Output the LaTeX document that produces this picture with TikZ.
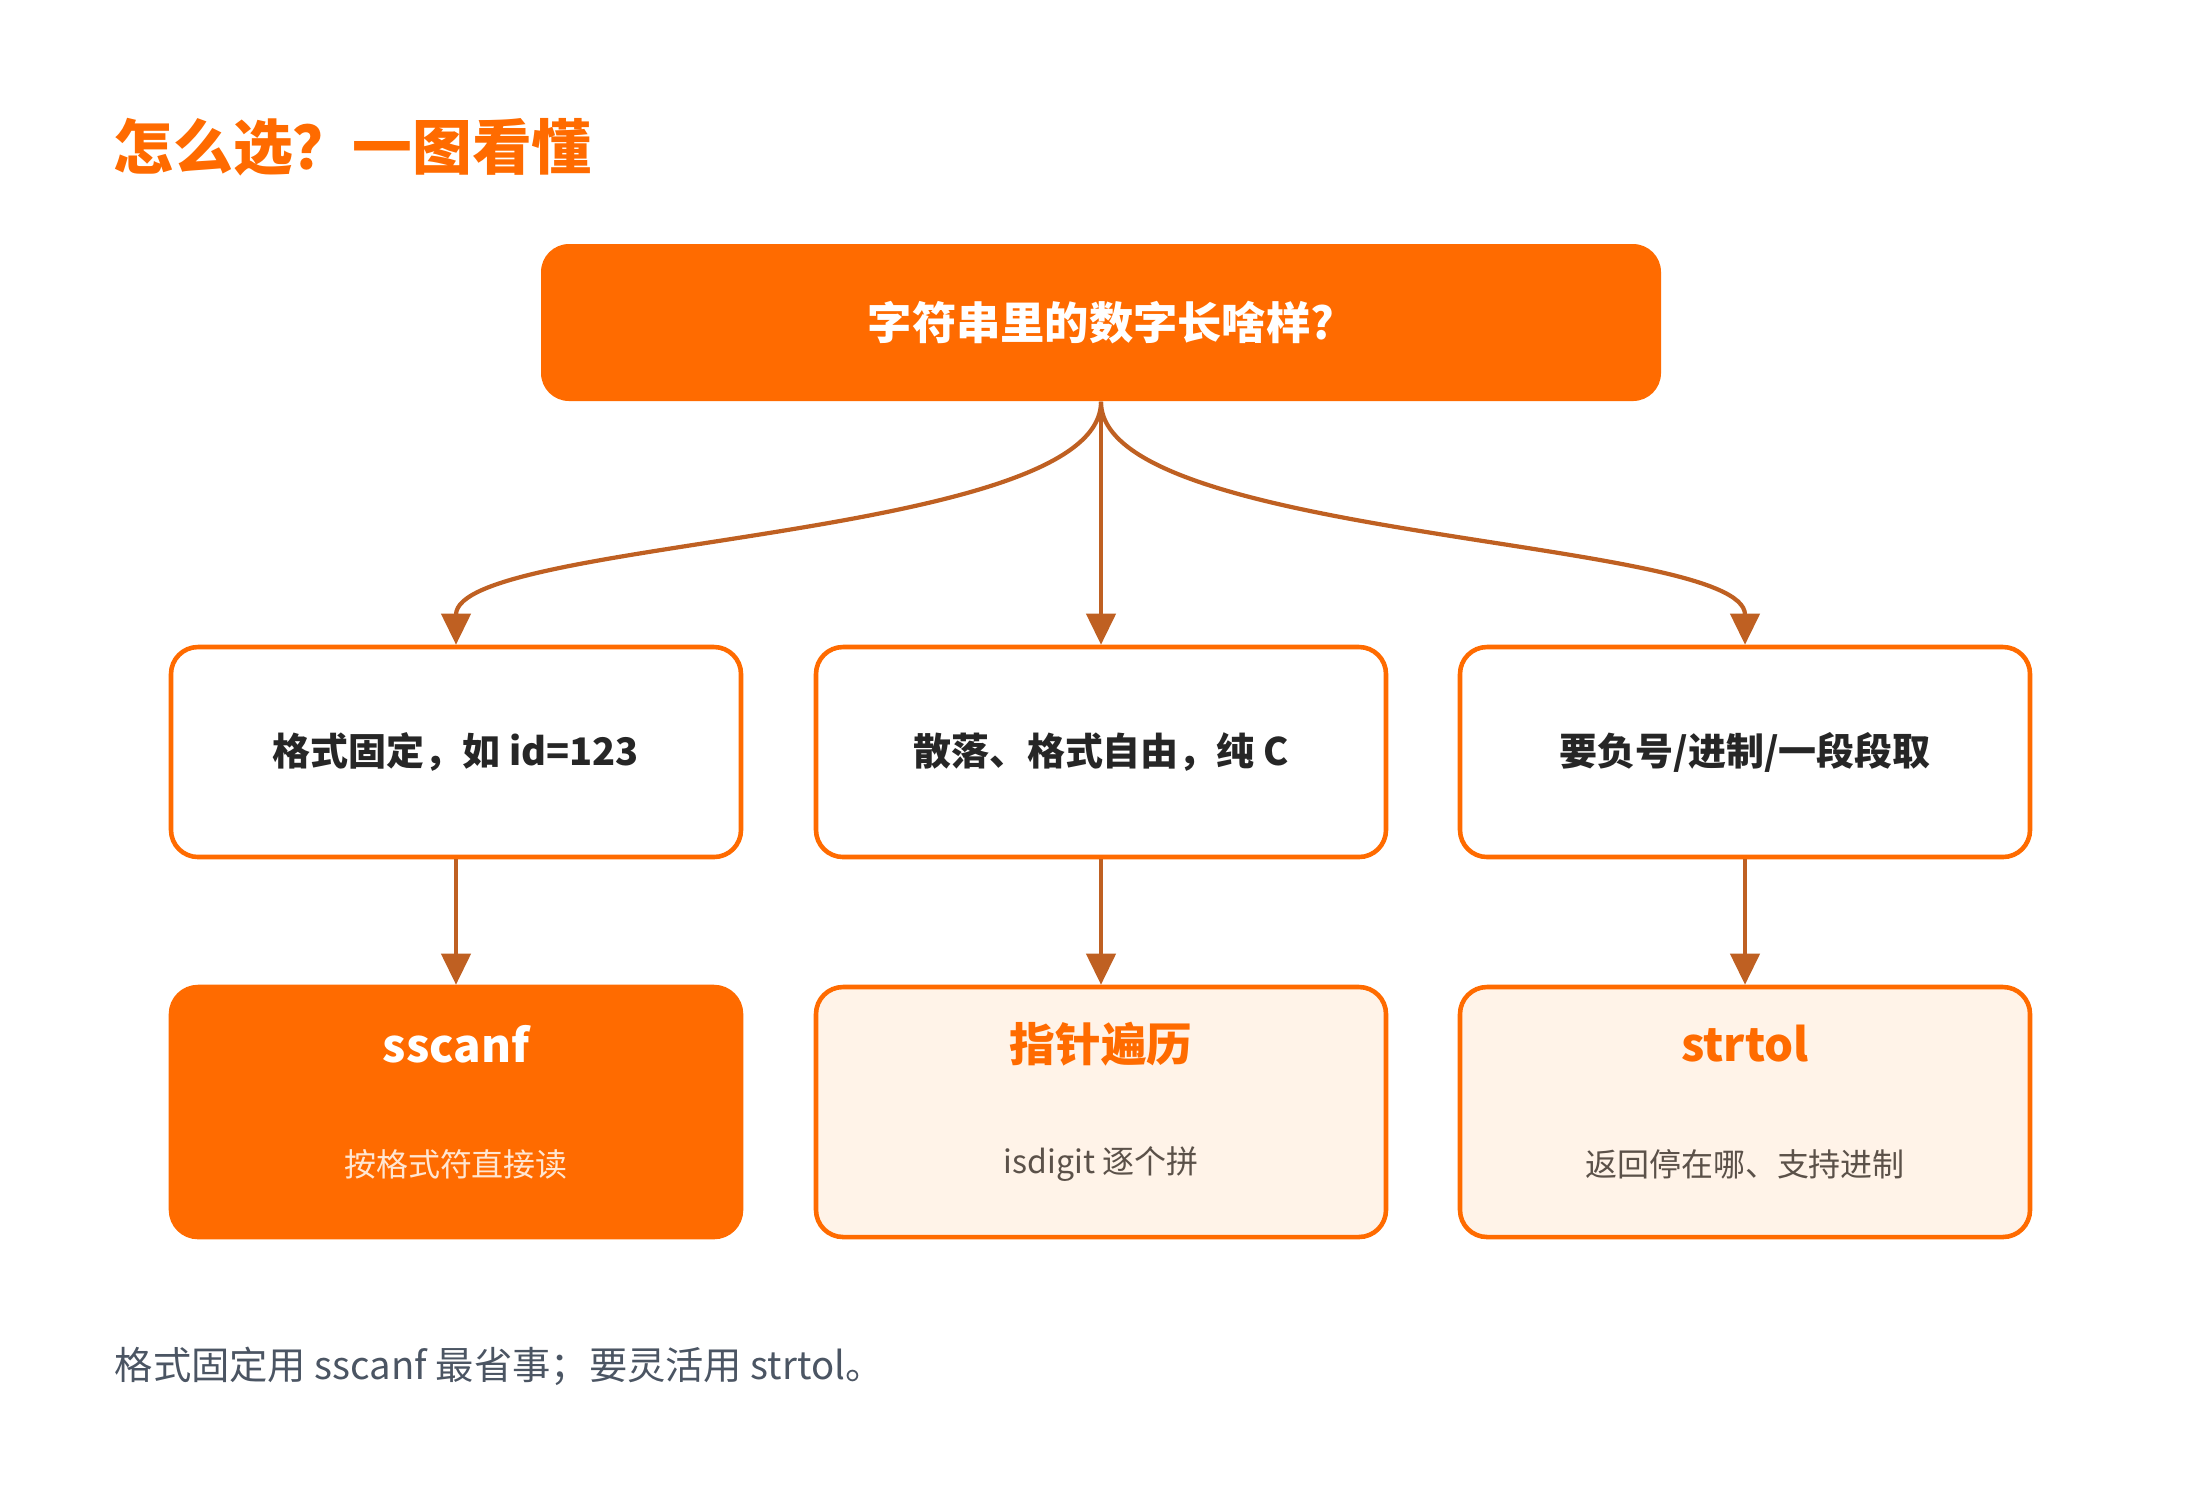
\documentclass[tikz,border=0pt]{standalone}
\usepackage{fontspec}
\setmainfont{Noto Sans CJK SC}
\usepackage{tikz}
\usetikzlibrary{arrows.meta,positioning}
\definecolor{brand}{HTML}{FF6B00}
\definecolor{linkc}{HTML}{BF6022}
\definecolor{peach}{HTML}{FFF3E8}
\definecolor{ink}{HTML}{262626}
\definecolor{notec}{HTML}{4B5563}
\definecolor{subc}{HTML}{5B5149}
\definecolor{subw}{HTML}{FFE6D2}
\tikzset{
    >={Triangle[width=2.9mm,length=3.1mm]},
    link/.style={->,draw=linkc,line width=1.2pt},
    rootbox/.style={rectangle,rounded corners=2.8mm,fill=brand,minimum width=11.2cm,minimum height=1.57cm,font=\fontsize{12.6}{15}\selectfont\bfseries,text=white},
    askbox/.style={rectangle,rounded corners=2.7mm,draw=brand,line width=1.3pt,fill=white,minimum width=5.7cm,minimum height=2.1cm,font=\fontsize{10.8}{13}\selectfont\bfseries,text=ink},
    pickbox/.style={rectangle,rounded corners=2.7mm,draw=brand,line width=1.3pt,fill=peach,minimum width=5.7cm,minimum height=2.5cm},
    picktitle/.style={font=\fontsize{13}{16}\selectfont\bfseries,text=brand,inner sep=0pt},
    picksub/.style={font=\fontsize{9.1}{11}\selectfont,text=subc,inner sep=0pt},
}
\begin{document}
\begin{tikzpicture}
    \useasboundingbox (0,0) rectangle (22,-14.88);

    % title
    \node[anchor=west,inner sep=0pt,font=\fontsize{17}{20}\selectfont\bfseries,text=brand] (title) at (1.13,-1.47) {怎么选？一图看懂};

    % question
    \node[rootbox] (root) at (11.01,-3.225) {字符串里的数字长啥样?};

    % cases
    \node[askbox] (fixed) at (4.56,-7.52) {格式固定，如 id=123};
    \node[askbox] (loose) at (11.01,-7.52) {散落、格式自由，纯 C};
    \node[askbox] (base)  at (17.45,-7.52) {要负号/进制/一段段取};

    % answers
    \node[pickbox,fill=brand] (sscanf) at (4.56,-11.12) {};
    \node[pickbox] (walk)   at (11.01,-11.12) {};
    \node[pickbox] (strtol) at (17.45,-11.12) {};

    \node[picktitle,text=white] (sscanf_t) at ([yshift=-5.9mm]sscanf.north) {sscanf};
    \node[picksub,text=subw]    (sscanf_s) at ([yshift=7.5mm]sscanf.south) {按格式符直接读};
    \node[picktitle] (walk_t)   at ([yshift=-5.9mm]walk.north) {指针遍历};
    \node[picksub]   (walk_s)   at ([yshift=7.5mm]walk.south) {isdigit 逐个拼};
    \node[picktitle] (strtol_t) at ([yshift=-5.9mm]strtol.north) {strtol};
    \node[picksub]   (strtol_s) at ([yshift=7.5mm]strtol.south) {返回停在哪、支持进制};

    % links
    \draw[link] (root.south) .. controls +(0,-1.39) and +(0,1.07) .. (fixed.north);
    \draw[link] (root.south) -- (loose.north);
    \draw[link] (root.south) .. controls +(0,-1.39) and +(0,1.07) .. (base.north);
    \draw[link] (fixed.south) -- (sscanf.north);
    \draw[link] (loose.south) -- (walk.north);
    \draw[link] (base.south) -- (strtol.north);

    % note
    \node[anchor=west,inner sep=0pt,font=\fontsize{10.9}{13}\selectfont,text=notec] (note) at (1.14,-13.66) {格式固定用 sscanf 最省事；要灵活用 strtol。};
\end{tikzpicture}
\end{document}
